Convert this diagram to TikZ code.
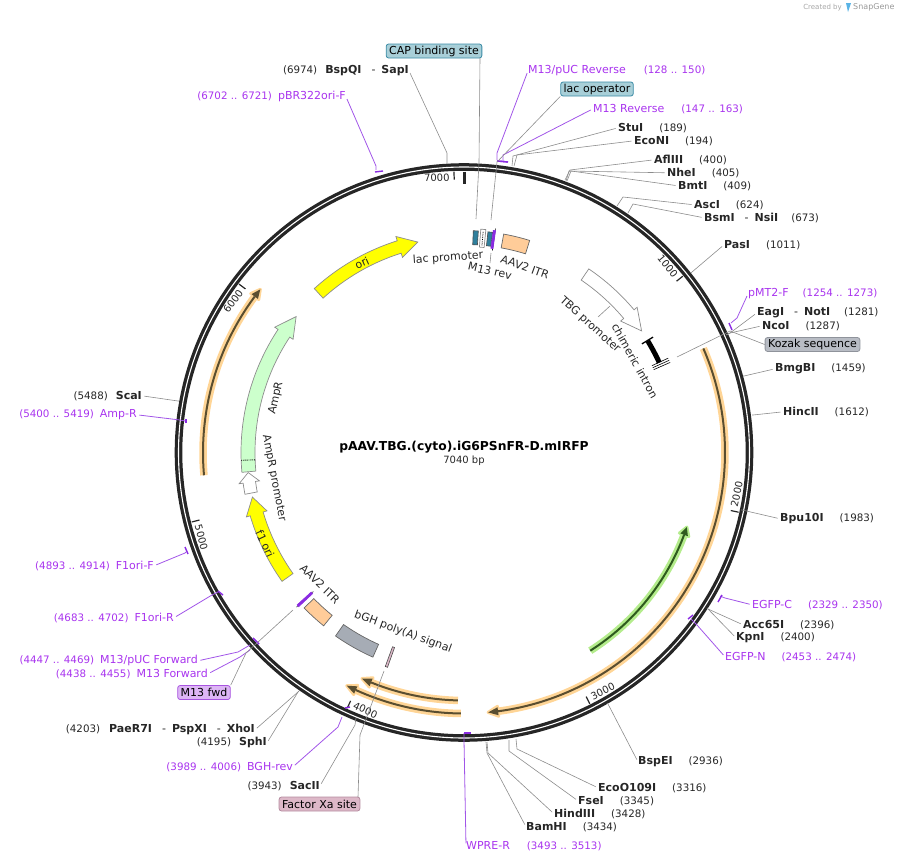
\documentclass[tikz,border=0pt]{standalone}
\usepackage{fontspec}
\setmainfont{DejaVu Sans}
\usetikzlibrary{calc}
\definecolor{ringblack}{HTML}{262626}
\definecolor{rulegrey}{HTML}{8C8C8C}
\definecolor{primerviolet}{HTML}{A833EE}
\definecolor{tickviolet}{HTML}{8A2BE2}
\definecolor{featyellow}{HTML}{FFFF00}
\definecolor{ampgreen}{HTML}{CCFFCC}
\definecolor{itrpeach}{HTML}{FFCC99}
\definecolor{polygrey}{HTML}{A6ACB5}
\definecolor{capteal}{HTML}{2F7F9C}
\definecolor{capfill}{HTML}{A8CFD8}
\definecolor{capedge}{HTML}{3C8CA6}
\definecolor{xafill}{HTML}{DDB8C8}
\definecolor{xaedge}{HTML}{B58CA0}
\definecolor{kozakfill}{HTML}{B8BCC4}
\definecolor{kozakedge}{HTML}{8F939B}
\definecolor{fwdfill}{HTML}{DDB5F5}
\definecolor{fwdedge}{HTML}{A855E0}
\definecolor{orangehalo}{HTML}{FFD596}
\definecolor{orangecore}{HTML}{5A4E30}
\definecolor{greenhalo}{HTML}{B4EC8C}
\definecolor{greencore}{HTML}{2E5A1E}
\definecolor{snapblue}{HTML}{5AB4E6}
\tikzset{
  every node/.style={inner sep=0pt, font=\fontsize{11}{13}\selectfont, text=black!85},
  sitelabel/.style={anchor=west, yshift=-0.8pt},
  sitelabelr/.style={anchor=east, yshift=-0.8pt},
  primerlabel/.style={anchor=west, yshift=-0.8pt, text=primerviolet},
  primerlabelr/.style={anchor=east, yshift=-0.8pt, text=primerviolet},
  featlabel/.style={font=\fontsize{11}{13}\selectfont},
  featbox/.style={rectangle, rounded corners=2.5pt, line width=0.8pt, inner xsep=3pt,
                  minimum height=14pt, text=black},
  leader/.style={line width=0.6pt, draw=rulegrey, shorten <=2.5pt},
  primerline/.style={line width=0.8pt, draw=tickviolet!80, shorten <=2.5pt},
  primertick/.style={line width=1.4pt, draw=tickviolet},
  feat/.style={line width=0.7pt, draw=rulegrey, line join=miter},
  thinfeat/.style={line width=0.6pt, draw=black!70}
}
\newcommand{\numtxt}[1]{{\fontsize{10.3}{13}\selectfont #1}}
\newcommand{\sitepair}[3][16pt]{\textbf{#2}\hspace{#1}\numtxt{#3}}
\newcommand{\blockarrow}[7]{%
  \draw[#1] ({#2-90}:#5) arc[start angle={#2-90}, end angle={#3-90}, radius=#5]
    -- ({#3-90}:{#5-#7}) -- ({#4-90}:{(#5+#6)/2}) -- ({#3-90}:{#6+#7}) -- ({#3-90}:#6)
    arc[start angle={#3-90}, end angle={#2-90}, radius=#6] -- cycle;}
\newcommand{\arcblock}[5]{%
  \draw[#1] ({#2-90}:#4) arc[start angle={#2-90}, end angle={#3-90}, radius=#4]
    -- ({#3-90}:#5) arc[start angle={#3-90}, end angle={#2-90}, radius=#5] -- cycle;}
\newcommand{\halotrack}[6]{%
  \draw[#1, line width=7.5pt] ({#3-90}:#6) arc[start angle={#3-90}, end angle={#4-90}, radius=#6];
  \filldraw[#1, fill=#1, line width=3pt, line join=round] ({#4-90}:{#6-5}) -- ({#5-90}:#6) -- ({#4-90}:{#6+5}) -- cycle;
  \draw[#2, line width=2pt] ({#3-90}:#6) arc[start angle={#3-90}, end angle={#4-90}, radius=#6];
  \fill[#2] ({#4-90}:{#6-4}) -- ({#5-90}:#6) -- ({#4-90}:{#6+4}) -- cycle;}
\begin{document}
\begin{tikzpicture}[x=1pt, y=-1pt]
  \useasboundingbox (0,0) rectangle (902,862);
  \begin{scope}[shift={(464,452.5)}]
    \draw[ringblack, line width=7.6pt] (0,0) circle[radius=285.5];
    \draw[white, line width=1.1pt] (0,0) circle[radius=285.5];
    \draw[ringblack, line width=3pt] (-90:281) -- (-90:269);
    \foreach \kb in {1000,2000,3000,4000,5000,6000,7000} {
      \pgfmathsetmacro{\tang}{\kb/7040*360}
      \pgfmathsetmacro{\tilt}{(\tang>90 && \tang<270) ? 180-\tang : -\tang}
      \draw[ringblack, line width=1.2pt] ({\tang-90}:281) -- ({\tang-90}:273);
      \node[rotate=\tilt, font=\fontsize{10}{12}\selectfont] (tick\kb) at ({\tang-93.6}:276) {\kb};
    }
    \blockarrow{feat, fill=featyellow}{-42.4}{-17.5}{-12.4}{209}{222}{4.5}
    \blockarrow{feat, fill=ampgreen}{-95.1}{-56.5}{-51}{209}{223}{4}
    \draw[black, line width=0.9pt, densely dotted] (-182:209) -- (-182:223);
    \blockarrow{feat, fill=white}{-100.8}{-97.9}{-95.3}{210.5}{223}{4}
    \blockarrow{feat, fill=featyellow}{-125.3}{-106.5}{-101.9}{209.5}{223}{4}
    \blockarrow{feat, fill=white}{34.2}{50}{55.6}{208.5}{222}{4}
    \arcblock{feat, draw=black!60, fill=itrpeach}{10.3}{17.2}{208}{222}
    \arcblock{feat, draw=black!60, fill=itrpeach}{-134.2}{-141}{209.5}{223}
    \arcblock{feat, draw=black!60, fill=polygrey}{-145}{-156}{210}{224}
    \arcblock{thinfeat, fill=capteal}{2.4}{3.7}{208}{222}
    \arcblock{thinfeat, fill=capteal}{6.2}{7.4}{208}{222}
    \arcblock{feat, fill=white}{4.3}{5.6}{206}{224}
    \draw[black, line width=0.8pt, densely dotted] ({4.95-90}:208) -- ({4.95-90}:222);
    \draw[black, line width=0.6pt] ({8-90}:204) -- ({8-90}:226);
    \arcblock{thinfeat, draw=tickviolet, fill=tickviolet}{7.5}{8.1}{206}{224}
    \draw[black!70, line width=0.6pt] ({-132.7-90}:205) -- ({-132.7-90}:228);
    \arcblock{thinfeat, draw=tickviolet, fill=tickviolet}{-132.4}{-133}{207}{226}
    \arcblock{thinfeat, fill=xafill}{-159.8}{-160.4}{207}{228}
    \draw[black, line width=5pt] ({58.7-90}:215) arc[start angle={58.7-90}, end angle={65.3-90}, radius=215];
    \draw[black, line width=1.3pt] ({58.6-90}:208.5) -- ({58.6-90}:221.5);
    \foreach \ang in {65.2,65.8,66.4} \draw[black, line width=0.6pt] ({\ang-90}:207) -- ({\ang-90}:225);
    \halotrack{orangehalo}{orangecore}{66.5}{172.5}{174.7}{261}
    \halotrack{greenhalo}{greencore}{147.5}{110.5}{108.5}{235}
    \halotrack{orangehalo}{orangecore}{-95}{-53.3}{-51.3}{261}
    \halotrack{orangehalo}{orangecore}{181.4}{202}{204.3}{248}
    \halotrack{orangehalo}{orangecore}{180.7}{204.5}{206.7}{261}
  \end{scope}
  \node[font=\bfseries\fontsize{12.3}{14}\selectfont, text=black] (title) at (464,447.5) {pAAV.TBG.(cyto).iG6PSnFR-D.mIRFP};
  \node[font=\fontsize{10}{12}\selectfont] (size) at (464,461) {7040 bp};

  \node[featlabel, rotate=24] (oritxt) at (362,263) {ori};
  \node[featlabel, rotate=4] (lactxt) at (448,258) {lac promoter};
  \node[featlabel, rotate=-13] (m13revtxt) at (490,271) {M13 rev};
  \node[featlabel, rotate=-20] (itrtxt) at (525,267) {AAV2 ITR};
  \node[featlabel, rotate=-42] (tbgtxt) at (590,325) {TBG promoter};
  \node[featlabel, rotate=-61] (introntxt) at (635,361) {chimeric intron};
  \node[featlabel, rotate=77] (amprtxt) at (276,398) {AmpR};
  \node[featlabel, rotate=-79] (ppromtxt) at (274,478) {AmpR promoter};
  \node[featlabel, rotate=-65] (f1txt) at (265,544) {f1 ori};
  \node[featlabel, rotate=-44] (itrltxt) at (320,584) {AAV2 ITR};
  \node[featlabel, rotate=-20] (polytxt) at (403,632) {bGH poly(A) signal};

  \node[featbox, draw=capedge, fill=capfill] (cap) at (434,51) {CAP binding site};
  \node[featbox, draw=capedge, fill=capfill] (lacop) at (597,89) {lac operator};
  \node[featbox, draw=kozakedge, fill=kozakfill] (kozak) at (812.5,344.5) {Kozak sequence};
  \node[featbox, draw=xaedge, fill=xafill] (xa) at (319.5,804) {Factor Xa site};
  \node[featbox, draw=fwdedge, fill=fwdfill] (fwd) at (204,692.5) {M13 fwd};

  \node[sitelabelr] (sapi) at (409,70) {\numtxt{(6974)}\hspace{8pt}\textbf{BspQI}\hspace{10pt}-\hspace{6pt}\textbf{SapI}};
  \node[sitelabel] (stui) at (618,127) {\sitepair{StuI}{(189)}};
  \node[sitelabel] (econi) at (634,140) {\sitepair{EcoNI}{(194)}};
  \node[sitelabel] (aflii) at (654,159) {\sitepair{AflIII}{(400)}};
  \node[sitelabel] (nhei) at (667,172) {\sitepair{NheI}{(405)}};
  \node[sitelabel] (bmti) at (678,185) {\sitepair{BmtI}{(409)}};
  \node[sitelabel] (asci) at (694,204) {\sitepair{AscI}{(624)}};
  \node[sitelabel] (nsii) at (704,217) {\textbf{BsmI}\hspace{10pt}-\hspace{6pt}\textbf{NsiI}\hspace{13pt}\numtxt{(673)}};
  \node[sitelabel] (pasi) at (724,244) {\sitepair{PasI}{(1011)}};
  \node[sitelabel] (noti) at (757,312) {\textbf{EagI}\hspace{10pt}-\hspace{6pt}\textbf{NotI}\hspace{14pt}\numtxt{(1281)}};
  \node[sitelabel] (ncoi) at (762,325) {\sitepair{NcoI}{(1287)}};
  \node[sitelabel] (bmgbi) at (775,368) {\sitepair{BmgBI}{(1459)}};
  \node[sitelabel] (hincii) at (783,411) {\sitepair{HincII}{(1612)}};
  \node[sitelabel] (bpu) at (780,518) {\sitepair{Bpu10I}{(1983)}};
  \node[sitelabel] (acc) at (743,624) {\sitepair{Acc65I}{(2396)}};
  \node[sitelabel] (kpni) at (736,637) {\sitepair{KpnI}{(2400)}};
  \node[sitelabel] (bspei) at (638,761) {\sitepair{BspEI}{(2936)}};
  \node[sitelabel] (ecoo) at (598,787) {\sitepair{EcoO109I}{(3316)}};
  \node[sitelabel] (fsei) at (578,800) {\sitepair{FseI}{(3345)}};
  \node[sitelabel] (hind) at (554,813) {\sitepair{HindIII}{(3428)}};
  \node[sitelabel] (bamhi) at (526,826) {\sitepair{BamHI}{(3434)}};
  \node[sitelabelr] (sacii) at (320,785) {\numtxt{(3943)}\hspace{8pt}\textbf{SacII}};
  \node[sitelabelr] (sphi) at (267,742) {\numtxt{(4195)}\hspace{8pt}\textbf{SphI}};
  \node[sitelabelr] (xhoi) at (255,729) {\numtxt{(4203)}\hspace{9pt}\textbf{PaeR7I}\hspace{10pt}-\hspace{6pt}\textbf{PspXI}\hspace{10pt}-\hspace{6pt}\textbf{XhoI}};
  \node[sitelabelr] (scai) at (142,395) {\numtxt{(5488)}\hspace{8pt}\textbf{ScaI}};

  \node[primerlabelr] (pbr) at (346,96) {\numtxt{(6702 .. 6721)}\hspace{6pt}pBR322ori-F};
  \node[primerlabel] (pucrev) at (528,70) {M13/pUC Reverse\hspace{18pt}\numtxt{(128 .. 150)}};
  \node[primerlabel] (m13r) at (593,108) {M13 Reverse\hspace{17pt}\numtxt{(147 .. 163)}};
  \node[primerlabel] (pmt) at (748,293) {pMT2-F\hspace{14pt}\numtxt{(1254 .. 1273)}};
  \node[primerlabel] (egfpc) at (752,604) {EGFP-C\hspace{16pt}\numtxt{(2329 .. 2350)}};
  \node[primerlabel] (egfpn) at (725,656) {EGFP-N\hspace{16pt}\numtxt{(2453 .. 2474)}};
  \node[primerlabel] (wpre) at (466,845) {WPRE-R\hspace{17pt}\numtxt{(3493 .. 3513)}};
  \node[primerlabelr] (bghrev) at (293,766) {\numtxt{(3989 .. 4006)}\hspace{6pt}BGH-rev};
  \node[primerlabelr] (m13f) at (208,673) {\numtxt{(4438 .. 4455)}\hspace{6pt}M13 Forward};
  \node[primerlabelr] (pucf) at (198,660) {\numtxt{(4447 .. 4469)}\hspace{6pt}M13/pUC Forward};
  \node[primerlabelr] (f1r) at (174,617) {\numtxt{(4683 .. 4702)}\hspace{6pt}F1ori-R};
  \node[primerlabelr] (f1f) at (154,565) {\numtxt{(4893 .. 4914)}\hspace{6pt}F1ori-F};
  \node[primerlabelr] (ampr) at (137,414) {\numtxt{(5400 .. 5419)}\hspace{6pt}Amp-R};

  \foreach \nm/\an/\kx/\ky/\ex/\ey in {
    sapi/east/447/153/447/163, stui/west/513/156/512/166, econi/west/517/155/514/166,
    aflii/west/570/170/565/180, nhei/west/569/171/566/181, bmti/west/571/171/567/181,
    asci/west/623/197/617/206, nsii/west/633/204/628/213, pasi/west/692/272/691/273,
    noti/west/730/333/726/335, ncoi/west/730/333/726/335, bmgbi/west/744/376/743/376,
    hincii/west/753/415/752/415, bpu/west/742/510/741/510, acc/west/708/609/707/608,
    kpni/west/708/609/707/608, bspei/west/608/704/607/703, ecoo/west/517/749/516/739,
    fsei/west/509/751/509/740, hind/west/488/753/487/742, bamhi/west/487/753/486/742,
    sacii/east/355/725/356/718, sphi/east/298/692/299/691, xhoi/east/298/692/299/691,
    scai/east/178/401/179/401} {
    \coordinate (\nm-knee) at (\kx,\ky);
    \coordinate (\nm-ring) at (\ex,\ey);
    \draw[leader] (\nm.\an) -- (\nm-knee) -- (\nm-ring);
  }
  \foreach \nm/\an/\kx/\ky/\ex/\ey/\ax/\ay/\bx/\by in {
    pbr/east/376/166/376/170/375/172/383/171, pucrev/west/497/153/497/160/497/161/508/162,
    m13r/west/503/155/503/161/497/161/508/162, pmt/west/737/318/731/323/729/323/732/330,
    egfpc/west/725/598/720/596/718/602/722/595, egfpn/west/697/625/691/619/688/619/693/615,
    wpre/west/464/740/464/733/464/733/471/733, bghrev/east/338/727/342/717/345/708/350/707,
    m13f/east/240/657/250/650/253/638/259/644, pucf/east/238/652/250/645/253/638/259/644,
    f1r/east/212/595/218/592/218/591/223/595, f1f/east/185/553/186/552/185/547/188/554,
    ampr/east/180/420/185/421/186/419/186/423} {
    \coordinate (\nm-knee) at (\kx,\ky);
    \coordinate (\nm-ring) at (\ex,\ey);
    \draw[primerline] (\nm.\an) -- (\nm-knee) -- (\nm-ring);
    \draw[primertick] (\ax,\ay) -- (\bx,\by);
  }
  \coordinate (capend) at (476,219);
  \coordinate (capknee) at (479,163);
  \draw[leader, shorten <=0pt] (480,58) -- (capknee) -- (capend);
  \coordinate (lacknee) at (497,162);
  \coordinate (lacend) at (491,220);
  \draw[leader, shorten <=0pt] (lacop.south west) -- (lacknee) -- (lacend);
  \coordinate (kozakknee) at (730,331);
  \coordinate (kozakend) at (677,357);
  \draw[leader, shorten <=0pt] (kozak.west) -- (kozakknee) -- (kozakend);
  \coordinate (xaknee) at (360,735);
  \coordinate (xaend) at (384,671);
  \draw[leader, shorten <=0pt] (358,797) -- (xaknee) -- (xaend);
  \coordinate (fwdknee) at (246,653);
  \coordinate (fwdend) at (293,610);
  \draw[leader, shorten <=0pt] (fwd.north east) -- (fwdknee) -- (fwdend);
  \coordinate (tbgfrom) at (598,317);
  \coordinate (tbgend) at (610,306);
  \draw[leader, shorten <=0pt] (tbgfrom) -- (tbgend);
  \coordinate (revfrom) at (491,253);
  \coordinate (revend) at (490,263);
  \draw[leader, shorten <=0pt] (revfrom) -- (revend);
  \node[anchor=east, font=\fontsize{7}{8}\selectfont, text=black!35] (made) at (842,7.5) {Created by};
  \fill[snapblue] (846,3) -- (851,3) -- (848,12) -- cycle;
  \node[anchor=west, font=\fontsize{8}{9}\selectfont, text=black!40] (snap) at (853,7.5) {SnapGene};
\end{tikzpicture}
\end{document}
